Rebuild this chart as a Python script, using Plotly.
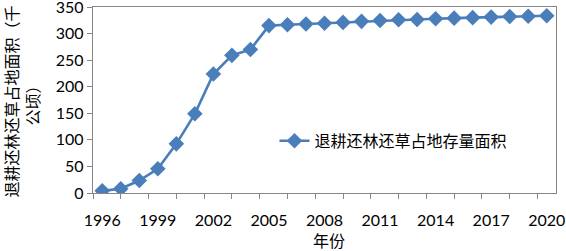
import plotly.graph_objects as go

years = list(range(1996, 2021))
area = [4, 8, 23.5, 45.5, 92.5, 149, 224, 259, 270, 315, 316.5, 318, 319.5, 321, 323,
        324.5, 326, 326.5, 328, 329, 330, 331, 332, 332.5, 333.5]
series_name = "退耕还林还草占地存量面积"
x_tick_years = list(range(1996, 2021, 3))
y_tick_vals = list(range(0, 351, 50))
y_title = "退耕还林还草占地面积（千<br>公顷）"
x_title = "年份"

blue = "#4A7EBB"
axis_col = "#868686"
num_font = "Lato, 'Open Sans', sans-serif"
cjk_font = "'Noto Sans CJK SC', sans-serif"

fig = go.Figure()
fig.add_trace(go.Scatter(
    x=years, y=area, name=series_name, mode="lines+markers",
    line=dict(color=blue, width=2.6),
    marker=dict(symbol="diamond", size=12, color=blue),
))

fig.update_layout(
    width=566, height=251,
    margin=dict(l=93, r=10, t=7, b=58, autoexpand=False),
    paper_bgcolor="white", plot_bgcolor="white",
    showlegend=True,
    legend=dict(x=0.392, y=0.28, xanchor="left", yanchor="middle",
                bgcolor="rgba(0,0,0,0)",
                font=dict(family=cjk_font, size=16, color="#000000")),
    xaxis=dict(
        range=[1995.5, 2020.5], tickvals=x_tick_years, automargin=False,
        ticks="", ticklen=0, showgrid=False, zeroline=False,
        showline=True, linecolor=axis_col, linewidth=1.3, mirror=True,
        ticklabelstandoff=13, ticklabeloverflow="allow",
        tickfont=dict(family=num_font, size=16, color="#000000"),
        minor=dict(tick0=1995.5, dtick=1.5, ticks="outside", ticklen=5,
                   tickcolor=axis_col, tickwidth=1.3, showgrid=False),
    ),
    yaxis=dict(
        range=[0, 350], tickvals=y_tick_vals, automargin=False,
        ticks="outside", ticklen=5, ticklabeloverflow="allow",
        tickcolor=axis_col, tickwidth=1.3,
        showgrid=False, zeroline=False,
        showline=True, linecolor=axis_col, linewidth=1.3, mirror=True,
        tickfont=dict(family=num_font, size=16, color="#000000"),
    ),
    annotations=[
        dict(text=y_title, xref="paper", yref="paper", x=-0.154, y=0.49,
             xanchor="center", yanchor="middle", textangle=-90, showarrow=False,
             font=dict(family=cjk_font, size=16, color="#000000")),
        dict(text=x_title, xref="paper", yref="paper", x=0.51, y=-0.255,
             xanchor="center", yanchor="middle", showarrow=False,
             font=dict(family=cjk_font, size=16, color="#000000")),
    ],
)

fig.write_html("out.html", config={"displayModeBar": False})

# remove the default page margin so the figure sits at the window's top-left corner
with open("out.html", "r", encoding="utf-8") as f:
    html = f.read()
html = html.replace("<head>", "<head><style>html,body{margin:0;padding:0;overflow:hidden;}</style>", 1)
with open("out.html", "w", encoding="utf-8") as f:
    f.write(html)
